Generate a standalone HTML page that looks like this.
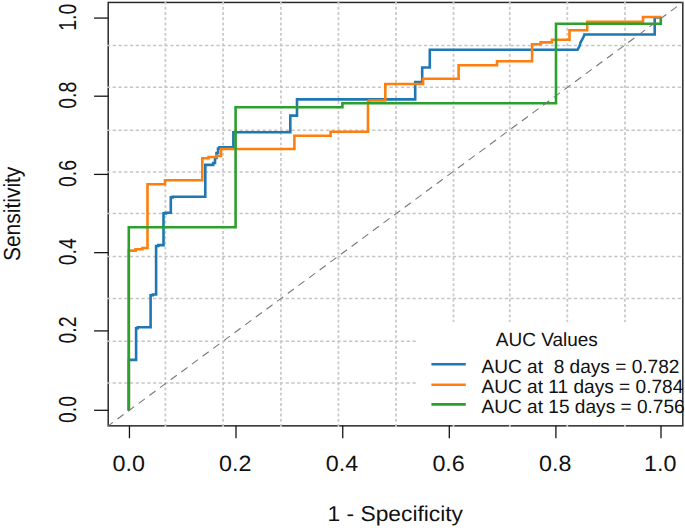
<!DOCTYPE html>
<html><head><meta charset="utf-8"><style>
html,body{margin:0;padding:0;background:#fff;}
body{width:685px;height:528px;overflow:hidden;font-family:"Liberation Sans",sans-serif;}
svg{display:block;}
text{font-family:"Liberation Sans",sans-serif;}
</style></head><body>
<svg width="685" height="528" viewBox="0 0 685 528">
<rect width="685" height="528" fill="#fff"/>
<rect x="108.2" y="2.45" width="574.60" height="423.40" fill="none" stroke="#2a2a2a" stroke-width="1.5"/>
<g stroke="#161616" stroke-width="1.3">
<line x1="129.45" y1="425.85" x2="129.45" y2="438.2"/>
<line x1="236.00" y1="425.85" x2="236.00" y2="438.2"/>
<line x1="342.75" y1="425.85" x2="342.75" y2="438.2"/>
<line x1="449.30" y1="425.85" x2="449.30" y2="438.2"/>
<line x1="555.90" y1="425.85" x2="555.90" y2="438.2"/>
<line x1="661.00" y1="425.85" x2="661.00" y2="438.2"/>
<line x1="94.1" y1="410.30" x2="108.2" y2="410.30"/>
<line x1="94.1" y1="330.90" x2="108.2" y2="330.90"/>
<line x1="94.1" y1="252.66" x2="108.2" y2="252.66"/>
<line x1="94.1" y1="174.40" x2="108.2" y2="174.40"/>
<line x1="94.1" y1="96.20" x2="108.2" y2="96.20"/>
<line x1="94.1" y1="18.07" x2="108.2" y2="18.07"/>
</g>
<g fill="none">
<line x1="165.40" y1="426.95" x2="165.40" y2="1.45" stroke="#cbcbcb" stroke-width="1.8" stroke-dasharray="2.95 2.264" stroke-dashoffset="-0.055"/>
<line x1="223.10" y1="426.95" x2="223.10" y2="1.45" stroke="#cbcbcb" stroke-width="1.8" stroke-dasharray="2.95 2.264" stroke-dashoffset="-0.055"/>
<line x1="280.90" y1="426.95" x2="280.90" y2="1.45" stroke="#cbcbcb" stroke-width="1.8" stroke-dasharray="2.95 2.264" stroke-dashoffset="-0.055"/>
<line x1="338.40" y1="426.95" x2="338.40" y2="1.45" stroke="#cbcbcb" stroke-width="1.8" stroke-dasharray="2.95 2.264" stroke-dashoffset="-0.055"/>
<line x1="396.00" y1="426.95" x2="396.00" y2="1.45" stroke="#cbcbcb" stroke-width="1.8" stroke-dasharray="2.95 2.264" stroke-dashoffset="-0.055"/>
<line x1="453.50" y1="426.95" x2="453.50" y2="1.45" stroke="#cbcbcb" stroke-width="1.8" stroke-dasharray="2.95 2.264" stroke-dashoffset="-0.055"/>
<line x1="509.80" y1="426.95" x2="509.80" y2="1.45" stroke="#cbcbcb" stroke-width="1.8" stroke-dasharray="2.95 2.264" stroke-dashoffset="-0.055"/>
<line x1="567.30" y1="426.95" x2="567.30" y2="1.45" stroke="#cbcbcb" stroke-width="1.8" stroke-dasharray="2.95 2.264" stroke-dashoffset="-0.055"/>
<line x1="624.95" y1="426.95" x2="624.95" y2="1.45" stroke="#cbcbcb" stroke-width="1.8" stroke-dasharray="2.95 2.264" stroke-dashoffset="-0.055"/>
<line x1="106.90" y1="45.40" x2="682.6" y2="45.40" stroke="#c6c6c6" stroke-width="1.5" stroke-dasharray="3.3 2.466" stroke-dashoffset="0.036"/>
<line x1="106.90" y1="87.25" x2="682.6" y2="87.25" stroke="#c6c6c6" stroke-width="1.5" stroke-dasharray="3.3 2.466" stroke-dashoffset="0.036"/>
<line x1="106.90" y1="130.15" x2="682.6" y2="130.15" stroke="#c6c6c6" stroke-width="1.5" stroke-dasharray="3.3 2.466" stroke-dashoffset="0.036"/>
<line x1="106.90" y1="171.90" x2="682.6" y2="171.90" stroke="#c6c6c6" stroke-width="1.5" stroke-dasharray="3.3 2.466" stroke-dashoffset="0.036"/>
<line x1="106.90" y1="213.50" x2="682.6" y2="213.50" stroke="#c6c6c6" stroke-width="1.5" stroke-dasharray="3.3 2.466" stroke-dashoffset="0.036"/>
<line x1="106.90" y1="256.50" x2="682.6" y2="256.50" stroke="#c6c6c6" stroke-width="1.5" stroke-dasharray="3.3 2.466" stroke-dashoffset="0.036"/>
<line x1="106.90" y1="298.40" x2="682.6" y2="298.40" stroke="#c6c6c6" stroke-width="1.5" stroke-dasharray="3.3 2.466" stroke-dashoffset="0.036"/>
<line x1="106.90" y1="341.25" x2="682.6" y2="341.25" stroke="#c6c6c6" stroke-width="1.5" stroke-dasharray="3.3 2.466" stroke-dashoffset="0.036"/>
<line x1="106.90" y1="383.00" x2="682.6" y2="383.00" stroke="#c6c6c6" stroke-width="1.5" stroke-dasharray="3.3 2.466" stroke-dashoffset="0.036"/>
</g>
<g fill="none" stroke-width="2.6" stroke-linejoin="miter" stroke-linecap="butt">
<polyline points="128.8,410.5 128.8,359.9 136.1,359.9 136.1,328.3 137.8,328.3 137.8,327.2 150.6,327.2 150.6,295.3 152.8,295.3 152.8,294.5 156.1,294.5 156.1,246.0 158.3,246.0 158.3,245.1 163.5,245.1 163.5,213.4 165.9,213.4 165.9,212.8 170.8,212.8 170.8,197.4 172.7,197.4 172.7,196.8 205.3,196.8 205.3,164.9 213.2,164.9 213.2,163.0 215.0,163.0 215.0,158.0 216.5,158.0 216.5,153.0 218.0,153.0 218.0,148.5 219.5,148.5 219.5,147.2 233.4,147.2 233.4,132.3 290.3,132.3 290.3,115.6 297.0,115.6 297.0,99.4 415.2,99.4 415.2,82.0 422.2,82.0 422.2,67.5 429.8,67.5 429.8,49.8 577.6,49.8 579.5,46.0 580.5,42.5 582.5,39.0 584.4,35.0 584.4,34.5 654.7,34.5 654.7,17.5 661.0,17.5" stroke="#1f77b4"/>
<polyline points="128.8,410.5 128.8,250.6 135.6,250.6 135.6,249.3 142.5,249.3 142.5,248.0 147.5,248.0 147.5,184.2 165.0,184.2 165.0,180.2 202.3,180.2 202.3,158.2 208.6,158.2 208.6,157.0 216.2,157.0 216.2,156.0 221.0,156.0 221.0,149.0 294.4,149.0 294.4,135.8 330.6,135.8 330.6,131.8 368.0,131.8 368.0,101.5 369.5,101.5 369.5,100.5 385.3,100.5 385.3,84.0 423.1,84.0 423.1,78.8 458.6,78.8 458.6,65.3 497.0,65.3 497.0,61.3 532.1,61.3 532.1,44.2 540.6,44.2 540.6,42.4 552.0,42.4 552.0,39.7 569.5,39.7 569.5,30.3 587.2,30.3 587.2,21.7 643.0,21.7 643.0,17.0 661.5,17.0" stroke="#ff7f0e"/>
<polyline points="128.8,410.6 128.8,227.2 235.6,227.2 235.6,107.2 342.4,107.2 342.4,103.3 556.0,103.3 556.0,23.8 660.8,23.8 660.8,17.5" stroke="#2ca02c"/>
</g>
<line x1="108.2" y1="425.85" x2="682.6" y2="2.45" stroke="#777777" stroke-width="1.1" stroke-dasharray="7.6 5.62" stroke-dashoffset="1.72"/>
<rect x="416.5" y="322" width="265.4" height="102.8" fill="#fff"/>
<text transform="translate(495.81,346.04) scale(0.9497,0.9550)" font-size="20" fill="#111" text-rendering="geometricPrecision" xml:space="preserve">AUC Values</text>
<line x1="431.4" y1="364.3" x2="465.8" y2="364.3" stroke="#1f77b4" stroke-width="2.6"/>
<text transform="translate(481.49,373.05) scale(0.9545,0.9550)" font-size="20" fill="#111" text-rendering="geometricPrecision" xml:space="preserve">AUC at  8 days = 0.782</text>
<line x1="431.4" y1="384.8" x2="465.8" y2="384.8" stroke="#ff7f0e" stroke-width="2.6"/>
<text transform="translate(481.49,393.00) scale(0.9545,0.9550)" font-size="20" fill="#111" text-rendering="geometricPrecision" xml:space="preserve">AUC at 11 days = 0.784</text>
<line x1="431.4" y1="404.4" x2="465.8" y2="404.4" stroke="#2ca02c" stroke-width="2.6"/>
<text transform="translate(481.49,413.10) scale(0.9545,0.9550)" font-size="20" fill="#111" text-rendering="geometricPrecision" xml:space="preserve">AUC at 15 days = 0.756</text>
<g font-family="Liberation Sans, sans-serif" fill="#111">
<text transform="translate(112.55,470.60) scale(1.1639,1.1030)" font-size="20" fill="#111" text-rendering="geometricPrecision" xml:space="preserve">0.0</text>
<text transform="translate(219.10,470.60) scale(1.1639,1.1030)" font-size="20" fill="#111" text-rendering="geometricPrecision" xml:space="preserve">0.2</text>
<text transform="translate(325.85,470.60) scale(1.1639,1.1030)" font-size="20" fill="#111" text-rendering="geometricPrecision" xml:space="preserve">0.4</text>
<text transform="translate(432.40,470.60) scale(1.1639,1.1030)" font-size="20" fill="#111" text-rendering="geometricPrecision" xml:space="preserve">0.6</text>
<text transform="translate(539.00,470.60) scale(1.1639,1.1030)" font-size="20" fill="#111" text-rendering="geometricPrecision" xml:space="preserve">0.8</text>
<text transform="translate(644.10,470.60) scale(1.1639,1.1030)" font-size="20" fill="#111" text-rendering="geometricPrecision" xml:space="preserve">1.0</text>
<text transform="translate(75.57,422.97) rotate(-90) scale(0.9750,1.2285)" font-size="20" fill="#111" text-rendering="geometricPrecision" xml:space="preserve">0.0</text>
<text transform="translate(75.57,343.57) rotate(-90) scale(0.9750,1.2285)" font-size="20" fill="#111" text-rendering="geometricPrecision" xml:space="preserve">0.2</text>
<text transform="translate(75.57,265.33) rotate(-90) scale(0.9750,1.2285)" font-size="20" fill="#111" text-rendering="geometricPrecision" xml:space="preserve">0.4</text>
<text transform="translate(75.57,187.07) rotate(-90) scale(0.9750,1.2285)" font-size="20" fill="#111" text-rendering="geometricPrecision" xml:space="preserve">0.6</text>
<text transform="translate(75.57,108.87) rotate(-90) scale(0.9750,1.2285)" font-size="20" fill="#111" text-rendering="geometricPrecision" xml:space="preserve">0.8</text>
<text transform="translate(75.57,30.74) rotate(-90) scale(0.9750,1.2285)" font-size="20" fill="#111" text-rendering="geometricPrecision" xml:space="preserve">1.0</text>
<text transform="translate(327.53,521.40) scale(1.1392,1.0776)" font-size="20" fill="#111" text-rendering="geometricPrecision" xml:space="preserve">1 - Specificity</text>
<text transform="translate(20.19,261.02) rotate(-90) scale(1.0481,1.1639)" font-size="20" fill="#111" text-rendering="geometricPrecision" xml:space="preserve">Sensitivity</text>
</g>
</svg>
</body></html>
